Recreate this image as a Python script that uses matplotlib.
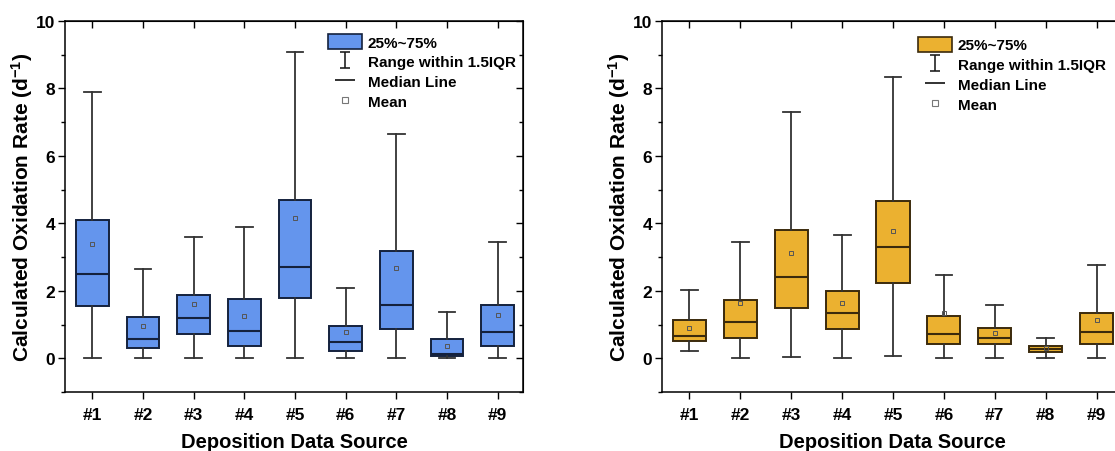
import numpy as np
import matplotlib
matplotlib.use('Agg')
import matplotlib.pyplot as plt
from matplotlib.patches import Patch
from matplotlib.lines import Line2D
from matplotlib.path import Path
from matplotlib.ticker import MultipleLocator

plt.rcParams['font.family'] = ['Liberation Sans', 'DejaVu Sans']
plt.rcParams['font.weight'] = 'bold'
plt.rcParams['mathtext.fontset'] = 'custom'
plt.rcParams['mathtext.rm'] = 'Liberation Sans:bold'
plt.rcParams['mathtext.bf'] = 'Liberation Sans:bold'
plt.rcParams['mathtext.default'] = 'bf'

# sources
labels = ['#1', '#2', '#3', '#4', '#5', '#6', '#7', '#8', '#9']

# left panel (blue)
a_whislo = [0, 0, 0, 0, 0, 0, 0, 0, 0]
a_q1 = [1.56, 0.29, 0.73, 0.35, 1.80, 0.22, 0.88, 0.06, 0.35]
a_med = [2.50, 0.58, 1.18, 0.82, 2.72, 0.47, 1.58, 0.13, 0.79]
a_q3 = [4.10, 1.23, 1.88, 1.76, 4.70, 0.96, 3.19, 0.56, 1.59]
a_whishi = [7.90, 2.64, 3.61, 3.90, 9.09, 2.07, 6.66, 1.37, 3.45]
a_mean = [3.38, 0.96, 1.61, 1.24, 4.17, 0.79, 2.68, 0.37, 1.28]

# right panel (orange)
b_whislo = [0.21, 0, 0.05, 0, 0.06, 0, 0, 0, 0]
b_q1 = [0.52, 0.61, 1.50, 0.88, 2.22, 0.42, 0.42, 0.19, 0.42]
b_med = [0.67, 1.07, 2.41, 1.35, 3.29, 0.72, 0.61, 0.27, 0.79]
b_q3 = [1.12, 1.74, 3.81, 2.00, 4.66, 1.25, 0.89, 0.36, 1.35]
b_whishi = [2.03, 3.44, 7.31, 3.66, 8.35, 2.46, 1.57, 0.60, 2.78]
b_mean = [0.90, 1.63, 3.13, 1.63, 3.76, 1.35, 0.76, 0.30, 1.12]

# "I" shaped marker for the whisker legend entry
whisker_marker = Path([(-0.6, 1), (0.6, 1), (0, 1), (0, -1), (-0.6, -1), (0.6, -1)],
                      [Path.MOVETO, Path.LINETO, Path.MOVETO, Path.LINETO,
                       Path.MOVETO, Path.LINETO])


def make_stats(lo, q1, med, q3, hi, mean):
    stats = []
    for i in range(len(lo)):
        stats.append({'whislo': lo[i], 'q1': q1[i], 'med': med[i], 'q3': q3[i],
                      'whishi': hi[i], 'mean': mean[i], 'fliers': []})
    return stats


def draw_panel(ax, stats, fill, edge, leg_x, leg_y):
    pos = np.arange(1, len(labels) + 1)
    ax.bxp(stats, positions=pos, widths=0.65, capwidths=0.33,
           showmeans=True, showfliers=False, patch_artist=True,
           boxprops=dict(facecolor=fill, edgecolor=edge, linewidth=1.4),
           medianprops=dict(color=edge, linewidth=1.5),
           whiskerprops=dict(color='#333333', linewidth=1.3),
           capprops=dict(color='#333333', linewidth=1.3),
           meanprops=dict(marker='s', markersize=3.5, markerfacecolor='none',
                          markeredgecolor='#555555', markeredgewidth=0.7))

    ax.set_xlim(0.46, 9.5)
    ax.set_ylim(-1, 10)
    ax.set_xticks(pos, labels)
    ax.set_yticks([0, 2, 4, 6, 8, 10])
    ax.yaxis.set_minor_locator(MultipleLocator(1))
    ax.tick_params(which='major', direction='out', length=5, width=1, labelsize=12.5)
    ax.tick_params(axis='x', pad=6)
    ax.tick_params(axis='y', pad=2)
    ax.tick_params(which='minor', direction='out', length=3, width=1)
    for s in ax.spines.values():
        s.set_linewidth(1.1)

    top = ax.secondary_xaxis('top')
    top.set_xticks(pos, labels=[''] * len(pos))
    top.tick_params(direction='in', length=5, width=1)
    right = ax.secondary_yaxis('right')
    right.set_yticks([0, 2, 4, 6, 8, 10], labels=[''] * 6)
    right.yaxis.set_minor_locator(MultipleLocator(1))
    right.tick_params(which='major', direction='in', length=5, width=1)
    right.tick_params(which='minor', direction='in', length=3, width=1)

    ax.set_xlabel('Deposition Data Source', fontsize=14.5, fontweight='bold', labelpad=7)
    ax.set_ylabel('Calculated Oxidation Rate (d$^{-1}$)', fontsize=15, fontweight='bold', labelpad=1)

    # legend handles
    box_h = Patch(facecolor=fill, edgecolor=edge, linewidth=1.2)
    rng_h = Line2D([], [], marker=whisker_marker, markersize=12, markerfacecolor='none',
                   markeredgecolor='#222222', markeredgewidth=1.2, linestyle='none')
    med_h = Line2D([], [], color='#222222', marker='_', markersize=15,
                   markeredgewidth=1.3, linestyle='none')
    mean_h = Line2D([], [], marker='s', markersize=5, markerfacecolor='none',
                    markeredgecolor='#777777', markeredgewidth=0.8, linestyle='none')
    ax.legend([box_h, rng_h, med_h, mean_h],
              ['25%~75%', 'Range within 1.5IQR', 'Median Line', 'Mean'],
              loc='upper left', bbox_to_anchor=(leg_x, leg_y), frameon=False,
              prop={'size': 11, 'weight': 'bold'}, borderpad=0, borderaxespad=0,
              handlelength=2.2, handleheight=1.1, handletextpad=0.4, labelspacing=0.28)


fig = plt.figure(figsize=(11.15, 4.52), dpi=100)
ax1 = fig.add_axes([65 / 1115, 59 / 452, 458 / 1115, 371 / 452])
ax2 = fig.add_axes([662 / 1115, 59 / 452, 460 / 1115, 371 / 452])

draw_panel(ax1, make_stats(a_whislo, a_q1, a_med, a_q3, a_whishi, a_mean),
           '#6495ED', '#14213d', 0.574, 0.965)
draw_panel(ax2, make_stats(b_whislo, b_q1, b_med, b_q3, b_whishi, b_mean),
           '#EBB130', '#3b2a0c', 0.557, 0.957)

fig.savefig('out.png', dpi=100)
